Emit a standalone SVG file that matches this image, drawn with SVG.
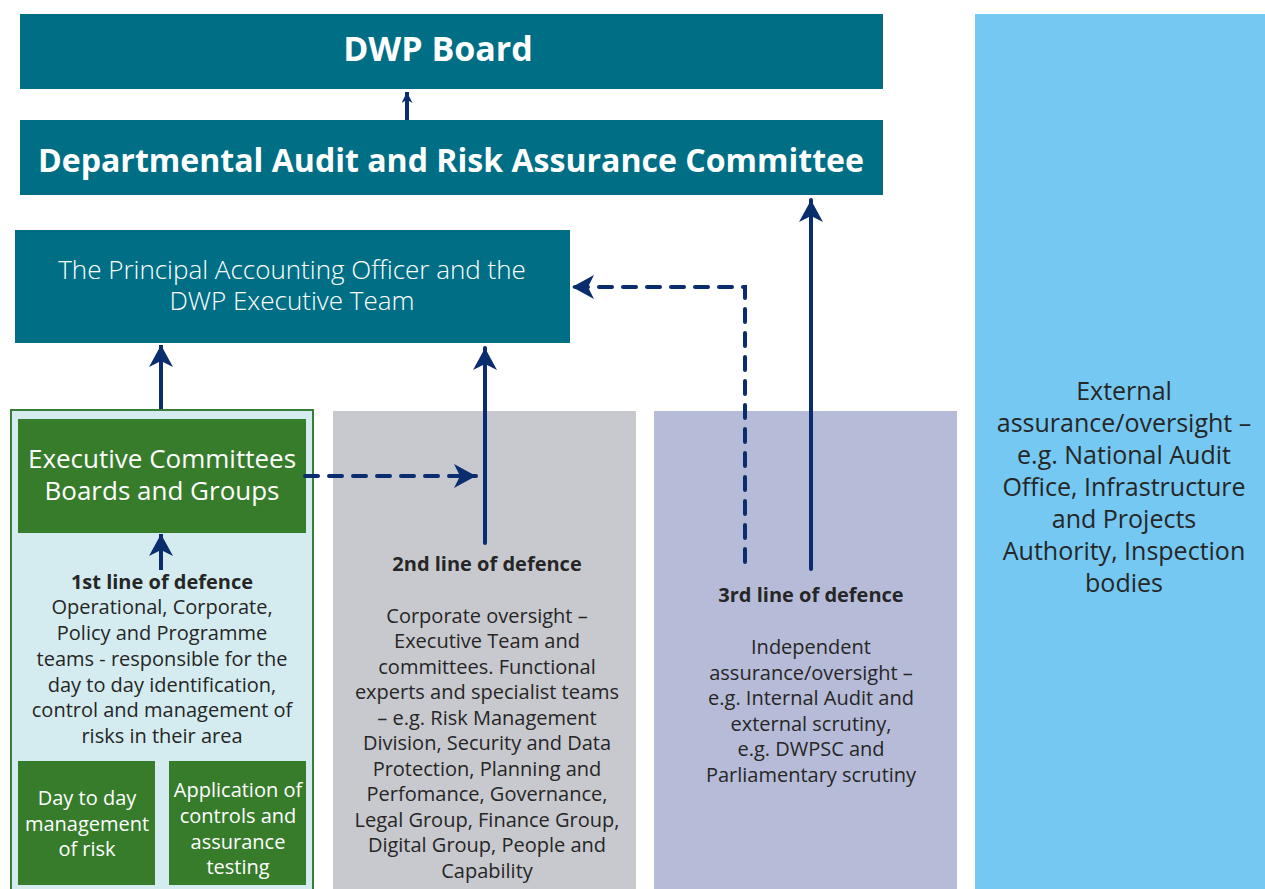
<svg xmlns="http://www.w3.org/2000/svg" width="1265" height="889" viewBox="0 0 1265 889">
<defs>
<marker id="ah" viewBox="0 0 10 10" refX="10" refY="5" markerWidth="11" markerHeight="11" markerUnits="userSpaceOnUse" orient="auto"><path d="M0,0 L10,5 L0,10 L3,5 Z" fill="#0a2d6e"/></marker>
<marker id="ahb" viewBox="0 0 22 24" refX="22" refY="12" markerWidth="22" markerHeight="24" markerUnits="userSpaceOnUse" orient="auto"><path d="M0,0 L22,12 L0,24 L6,12 Z" fill="#0a2d6e"/></marker>
<style>
.teal{fill:#006f86}
.green{fill:#367c2b}
.w{fill:#fff;font-family:"Open Sans","Liberation Sans",sans-serif;text-anchor:middle}
.b{font-weight:700}
.d{fill:#262626;font-family:"Open Sans","Liberation Sans",sans-serif;text-anchor:middle;font-size:20px}
.ln{stroke:#0a2d6e;stroke-width:4;fill:none}
.dash{stroke-dasharray:13 11;stroke-linecap:round}
</style>
</defs>
<g id="external"><rect x="975" y="14" width="290" height="875" fill="#75c8f1"/>
<text class="d" style="font-size:25px"><tspan x="1124" y="400">External</tspan><tspan x="1124" y="432">assurance/oversight –</tspan><tspan x="1124" y="464">e.g. National Audit</tspan><tspan x="1124" y="496">Office, Infrastructure</tspan><tspan x="1124" y="528">and Projects</tspan><tspan x="1124" y="560">Authority, Inspection</tspan><tspan x="1124" y="592">bodies</tspan></text></g>
<g id="board"><rect class="teal" x="20" y="14" width="863" height="75"/><text class="w b" x="438" y="61" font-size="34">DWP Board</text></g>
<g id="darac"><rect class="teal" x="20" y="120" width="863" height="75"/><text class="w b" x="451" y="172" font-size="32" textLength="826" lengthAdjust="spacingAndGlyphs">Departmental Audit and Risk Assurance Committee</text></g>
<g id="pao"><rect class="teal" x="15" y="230" width="555" height="113"/><text class="w" font-size="26" font-weight="300"><tspan x="292" y="279">The Principal Accounting Officer and the</tspan><tspan x="292" y="310">DWP Executive Team</tspan></text></g>
<g id="line1"><rect x="11" y="410" width="302" height="481" fill="#d4ecef" stroke="#3a7d3a" stroke-width="2"/>
<text class="d"><tspan x="162" y="589" font-weight="700">1st line of defence</tspan><tspan x="162" y="614">Operational, Corporate,</tspan><tspan x="162" y="640">Policy and Programme</tspan><tspan x="162" y="666">teams - responsible for the</tspan><tspan x="162" y="692">day to day identification,</tspan><tspan x="162" y="717">control and management of</tspan><tspan x="162" y="743">risks in their area</tspan></text></g>
<g id="exec"><rect class="green" x="18" y="419" width="288" height="114"/><text class="w" font-size="26"><tspan x="162" y="468">Executive Committees</tspan><tspan x="162" y="500">Boards and Groups</tspan></text></g>
<g id="daytoday"><rect class="green" x="18" y="761" width="137" height="124"/><text class="w" font-size="20"><tspan x="87" y="805">Day to day</tspan><tspan x="87" y="831">management</tspan><tspan x="87" y="856">of risk</tspan></text></g>
<g id="application"><rect class="green" x="169" y="761" width="137" height="124"/><text class="w" font-size="20"><tspan x="238" y="797">Application of</tspan><tspan x="238" y="823">controls and</tspan><tspan x="238" y="849">assurance</tspan><tspan x="238" y="874">testing</tspan></text></g>
<g id="line2"><rect x="333" y="411" width="303" height="478" fill="#c8c9ce"/>
<text class="d"><tspan x="487" y="571" font-weight="700">2nd line of defence</tspan><tspan x="487" y="623">Corporate oversight –</tspan><tspan x="487" y="648">Executive Team and</tspan><tspan x="487" y="674">committees. Functional</tspan><tspan x="487" y="699">experts and specialist teams</tspan><tspan x="487" y="725">– e.g. Risk Management</tspan><tspan x="487" y="750">Division, Security and Data</tspan><tspan x="487" y="776">Protection, Planning and</tspan><tspan x="487" y="801">Perfomance, Governance,</tspan><tspan x="487" y="827">Legal Group, Finance Group,</tspan><tspan x="487" y="852">Digital Group, People and</tspan><tspan x="487" y="878">Capability</tspan></text></g>
<g id="line3"><rect x="654" y="411" width="303" height="478" fill="#b6bcd8"/>
<text class="d"><tspan x="811" y="602" font-weight="700">3rd line of defence</tspan><tspan x="811" y="654">Independent</tspan><tspan x="811" y="680">assurance/oversight –</tspan><tspan x="811" y="705">e.g. Internal Audit and</tspan><tspan x="811" y="731">external scrutiny,</tspan><tspan x="811" y="756">e.g. DWPSC and</tspan><tspan x="811" y="782">Parliamentary scrutiny</tspan></text></g>
<g id="connectors">
<line class="ln" x1="407" y1="120" x2="407" y2="92" stroke-width="2.5" marker-end="url(#ah)"/>
<line class="ln" x1="161" y1="409" x2="161" y2="345" marker-end="url(#ahb)"/>
<line class="ln" x1="485" y1="543" x2="485" y2="348" stroke-linecap="round" marker-end="url(#ahb)"/>
<line class="ln" x1="811" y1="569" x2="811" y2="200" stroke-linecap="round" marker-end="url(#ahb)"/>
<line class="ln" x1="161" y1="570" x2="161" y2="534" marker-end="url(#ahb)"/>
<path class="ln dash" d="M745,562 V287 H572" marker-end="url(#ahb)"/>
<path class="ln dash" d="M305,476 H476" marker-end="url(#ahb)"/>
</g>
</svg>
